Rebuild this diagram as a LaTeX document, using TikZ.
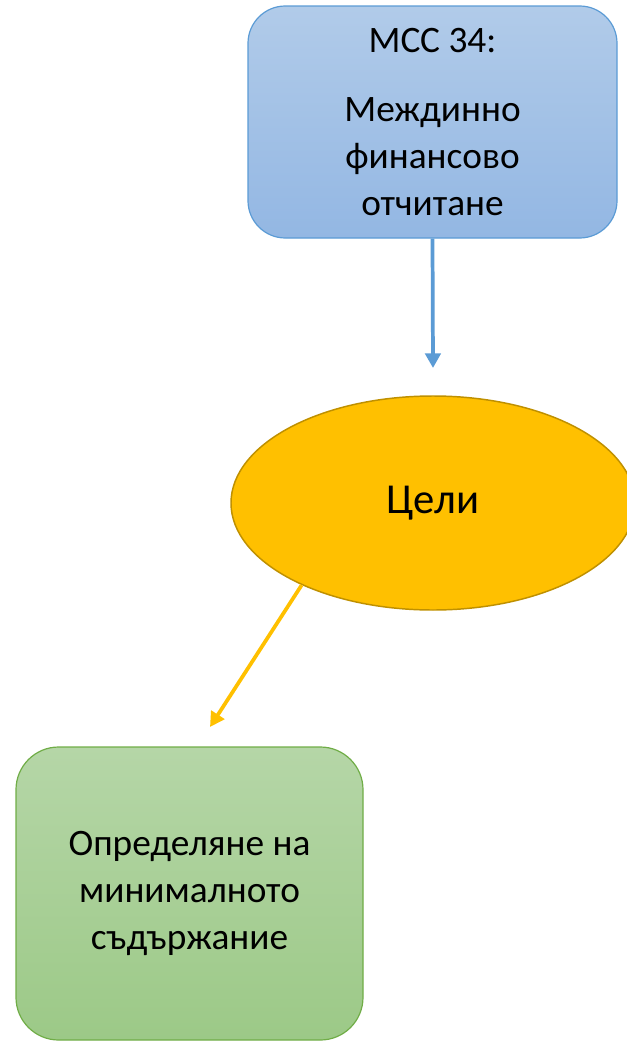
\documentclass[tikz,border=0pt]{standalone}
\usepackage{fontspec}
\setmainfont{Carlito}
\usetikzlibrary{arrows.meta,shapes.geometric}
\definecolor{bluetop}{RGB}{177,203,233}
\definecolor{bluebot}{RGB}{147,183,227}
\definecolor{blueline}{RGB}{91,155,213}
\definecolor{gold}{RGB}{255,192,0}
\definecolor{goldline}{RGB}{191,144,0}
\definecolor{greentop}{RGB}{181,214,167}
\definecolor{greenbot}{RGB}{156,201,135}
\definecolor{greenline}{RGB}{112,173,71}
\tikzset{
  boxtext/.style={font=\fontsize{28}{35}\selectfont, align=center, text=black},
  bluebox/.style={boxtext, draw=blueline, line width=0.9pt, rounded corners=28pt,
    top color=bluetop, bottom color=bluebot, minimum width=276.75pt, minimum height=174pt, inner sep=0pt},
  greenbox/.style={boxtext, draw=greenline, line width=0.9pt, rounded corners=32pt,
    top color=greentop, bottom color=greenbot, minimum width=260.25pt, minimum height=219.75pt, inner sep=0pt},
  goal/.style={ellipse, draw=goldline, line width=1.1pt, fill=gold, minimum width=303pt, minimum height=160.5pt,
    inner sep=0pt, font=\fontsize{32}{38}\selectfont},
  conn/.style={line width=2.8pt, -{Triangle[length=11pt,width=11.5pt]}}
}
\begin{document}
\begin{tikzpicture}[x=0.75pt,y=-0.75pt]
\useasboundingbox (0,0) rectangle (626,1042);
\node[bluebox] (top) at (432.5,122) {МСС 34:\\[17pt]Междинно\\финансово\\отчитане};
\node[goal] (ell) at (433,503) {Цели};
\node[greenbox] (bot) at (189.5,893.5) {Определяне на\\минималното\\съдържание};
\coordinate (tipb) at (433,368);
\coordinate (tipo) at (210,727);
\draw[conn, blueline] (top.south) -- (tipb);
\draw[conn, gold] (ell.212) -- (tipo);
\end{tikzpicture}
\end{document}
